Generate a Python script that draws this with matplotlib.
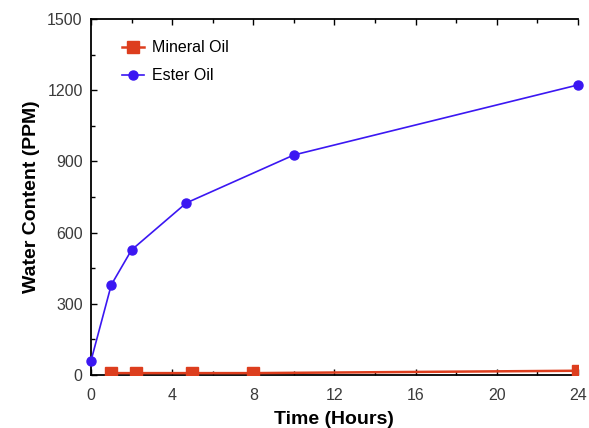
import matplotlib
matplotlib.use("Agg")
import matplotlib.pyplot as plt
from matplotlib.ticker import MultipleLocator

plt.rcParams['font.family'] = ['Liberation Sans', 'DejaVu Sans']

# Moisture uptake over time for the two insulating oils
mineral_hours = [1, 2.2, 5, 8, 24]
mineral_ppm = [8, 8, 8, 8, 18]

ester_hours = [0, 1, 2, 4.7, 10, 24]
ester_ppm = [60, 380, 527, 725, 927, 1222]

x_ticks = [0, 4, 8, 12, 16, 20, 24]
y_ticks = [0, 300, 600, 900, 1200, 1500]

fig = plt.figure(figsize=(5.89, 4.28), dpi=100)
ax = fig.add_axes([0.1545, 0.1238, 0.8265, 0.8318])

red = '#DD3E1E'
blue = '#3B17F2'

ax.plot(mineral_hours, mineral_ppm, color=red, lw=1.8, marker='s', ms=8,
        label='Mineral Oil', zorder=3)
ax.plot(ester_hours, ester_ppm, color=blue, lw=1.2, marker='o', ms=6.5,
        label='Ester Oil', clip_on=False, zorder=3)

ax.set_xlim(0, 24)
ax.set_ylim(0, 1500)
ax.set_xticks(x_ticks)
ax.set_yticks(y_ticks)
ax.xaxis.set_minor_locator(MultipleLocator(2))
ax.yaxis.set_minor_locator(MultipleLocator(150))
ax.tick_params(which='both', direction='in', top=True, right=False,
               labelsize=11.5, labelcolor='#3a3a3a', width=1.0)
ax.tick_params(which='major', length=4, pad=6)
ax.tick_params(axis='x', which='major', pad=9)
ax.tick_params(which='minor', length=3)
ax.spines['right'].set_visible(False)
for s in ax.spines.values():
    s.set_linewidth(1.3)

ax.set_xlabel('Time (Hours)', fontsize=14, fontweight='bold', labelpad=6)
ax.set_ylabel('Water Content (PPM)', fontsize=14, fontweight='bold', labelpad=5)

ax.legend(loc='upper left', frameon=False, fontsize=11.5, handlelength=1.4,
          handletextpad=0.5, borderaxespad=0.6, labelspacing=0.8,
          bbox_to_anchor=(0.03, 0.985))

fig.savefig('out.png', dpi=100)
